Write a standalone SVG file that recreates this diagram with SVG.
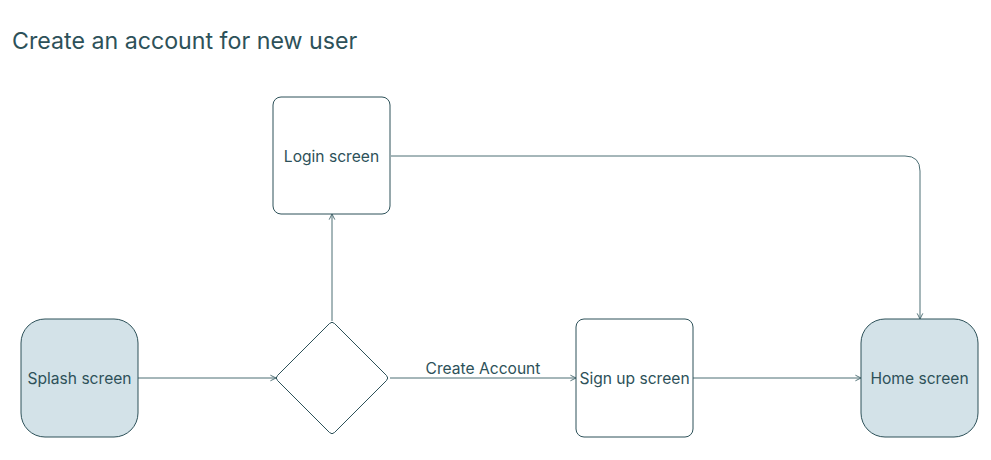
<svg xmlns="http://www.w3.org/2000/svg" width="991" height="460" viewBox="0 0 991 460">
<defs>
<style>
text{font-family:Inter,"Noto Sans","Liberation Sans",sans-serif;fill:#2d5159}
.lbl{font-size:15.6px;text-anchor:middle}
.title{font-size:23.2px}
.term{fill:#d3e2e8;stroke:#2d5159;stroke-width:1}
.box{fill:#fff;stroke:#2d5159;stroke-width:1}
.conn{fill:none;stroke:#4d6e74;stroke-width:1}
</style>
<marker id="arr" viewBox="0 0 10 10" refX="9" refY="5" markerWidth="8" markerHeight="8" markerUnits="userSpaceOnUse" orient="auto">
<path d="M2,1.5 L9,5 L2,8.5" fill="none" stroke="#4d6e74" stroke-width="1.2"/>
</marker>
</defs>
<rect width="991" height="460" fill="#fff"/>
<text class="title" x="12" y="49">Create an account for new user</text>
<g id="connectors">
<path class="conn" d="M138,378 H276" marker-end="url(#arr)"/>
<path class="conn" d="M332,321 V214" marker-end="url(#arr)"/>
<path class="conn" d="M390,378 H576" marker-end="url(#arr)"/>
<path class="conn" d="M693,378 H861" marker-end="url(#arr)"/>
<path class="conn" d="M391,156 H905 Q920,156 920,171 V319" marker-end="url(#arr)"/>
<text class="lbl" x="483" y="373.5">Create Account</text>
</g>
<g id="splash">
<rect class="term" x="21" y="319" width="117" height="118" rx="24"/>
<text class="lbl" x="79.5" y="384">Splash screen</text>
</g>
<g id="login">
<rect class="box" x="273" y="97" width="117" height="117" rx="8"/>
<text class="lbl" x="331.5" y="161.5">Login screen</text>
</g>
<g id="decision">
<path class="box" d="M329.5,323.5 Q332,321 334.5,323.5 L386.5,375.5 Q389,378 386.5,380.5 L334.5,432.5 Q332,435 329.5,432.5 L277.5,380.5 Q275,378 277.5,375.5 Z"/>
</g>
<g id="signup">
<rect class="box" x="576" y="319" width="117" height="118" rx="8"/>
<text class="lbl" x="634.5" y="384">Sign up screen</text>
</g>
<g id="home">
<rect class="term" x="861" y="319" width="117" height="118" rx="24"/>
<text class="lbl" x="919.5" y="384">Home screen</text>
</g>
</svg>
